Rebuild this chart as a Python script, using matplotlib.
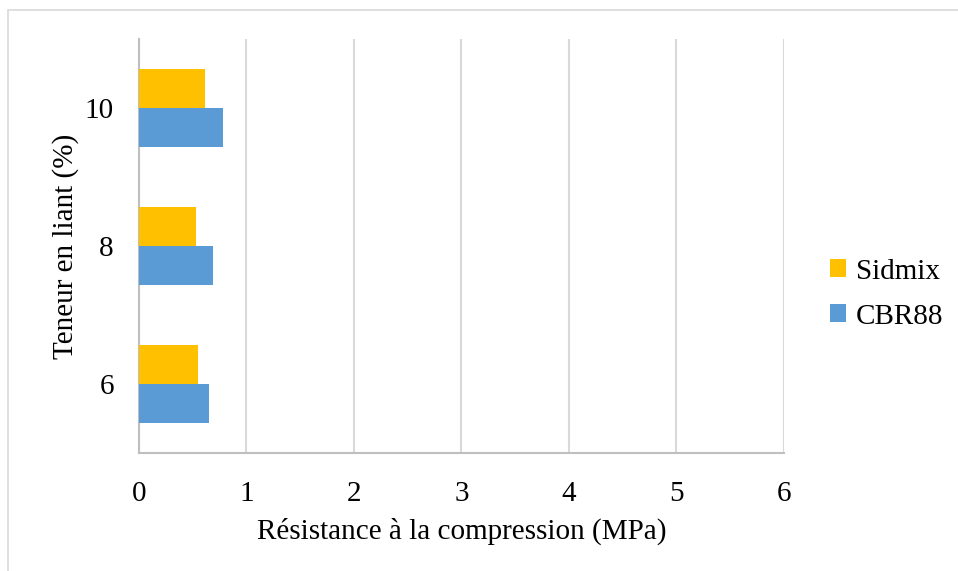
import matplotlib.pyplot as plt
from matplotlib.patches import Rectangle
import numpy as np

plt.rcParams['font.family'] = ['Liberation Serif', 'DejaVu Serif']

categories = ['6', '8', '10']
cbr88 = [0.65, 0.69, 0.78]
sidmix = [0.55, 0.53, 0.61]

fig = plt.figure(figsize=(9.58, 5.71), dpi=100)
ax = fig.add_axes([139 / 958, 1 - 453 / 571, (784 - 139) / 958, (453 - 39) / 571])

# light frame round the whole chart
fig.patches.append(Rectangle((8 / 958, -0.05), 1.2, 1 - 10 / 571 + 0.05,
                             transform=fig.transFigure, fill=False,
                             edgecolor='#d9d9d9', linewidth=1.2))

y = np.arange(len(categories))
h = 0.28
ax.barh(y - h / 2, cbr88, height=h, color='#5b9bd5', label='CBR88', zorder=3)
ax.barh(y + h / 2, sidmix, height=h, color='#ffc000', label='Sidmix', zorder=3)

ax.set_xlim(0, 6)
ax.set_ylim(-0.5, 2.5)
ax.set_xticks(range(7))
ax.set_yticks(y)
ax.set_yticklabels(categories)
ax.tick_params(axis='both', length=0, labelsize=21)
ax.tick_params(axis='x', pad=20)
ax.tick_params(axis='y', pad=18)

ax.grid(axis='x', color='#d9d9d9', linewidth=1.5, zorder=0)
for s in ['top', 'right']:
    ax.spines[s].set_visible(False)
for s in ['left', 'bottom']:
    ax.spines[s].set_color('#bfbfbf')
    ax.spines[s].set_linewidth(1.5)

ax.set_xlabel('Résistance à la compression (MPa)', fontsize=21, labelpad=8)
ax.set_ylabel('Teneur en liant (%)', fontsize=21, labelpad=4)

handles, labels = ax.get_legend_handles_labels()
ax.legend(handles[::-1], labels[::-1], loc='center left', bbox_to_anchor=(1.03, 0.384),
          frameon=False, fontsize=21, handlelength=0.55, handleheight=0.55,
          handletextpad=0.35, labelspacing=0.65)

fig.savefig('out.png', dpi=100)
